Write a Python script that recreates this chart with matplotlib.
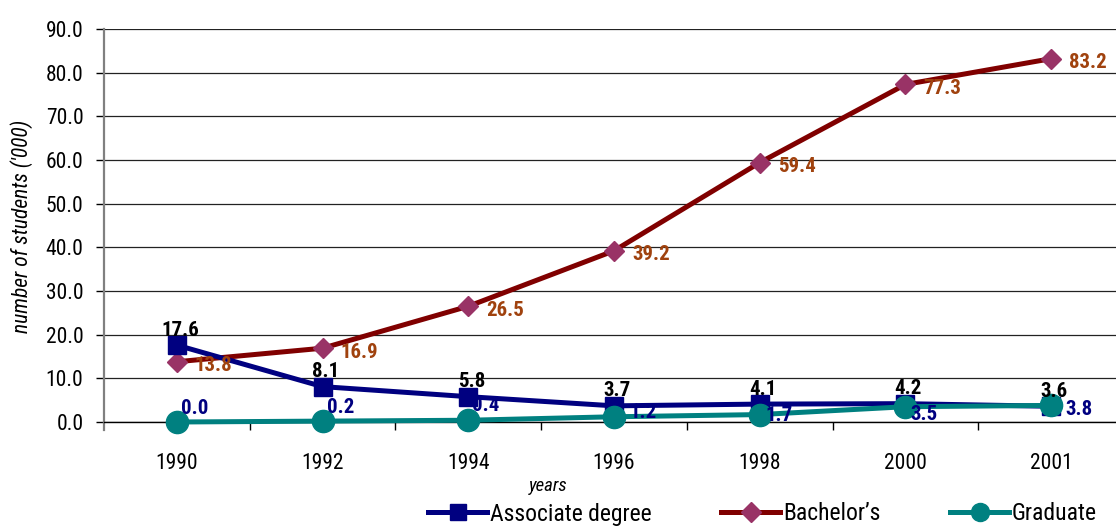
import matplotlib
matplotlib.use("Agg")
import matplotlib.pyplot as plt
from matplotlib.lines import Line2D

plt.rcParams['font.family'] = ['Roboto Condensed', 'DejaVu Sans']

years = ["1990", "1992", "1994", "1996", "1998", "2000", "2001"]
associate = [17.6, 8.1, 5.8, 3.7, 4.1, 4.2, 3.6]
bachelors = [13.8, 16.9, 26.5, 39.2, 59.4, 77.3, 83.2]
graduate = [0.0, 0.2, 0.4, 1.2, 1.7, 3.5, 3.8]
yticks = [0, 10, 20, 30, 40, 50, 60, 70, 80, 90]

# label offsets (pixels) for the graduate series, placed around the markers
grad_offsets = [(4, 14), (4, 14), (4, 15), (15, 4), (6, -1), (5, -8), (14, -4)]

W, H = 1116, 527
fig = plt.figure(figsize=(W / 100, H / 100), dpi=100)
ax = fig.add_axes([104 / W, 105 / H, 1012 / W, 393 / H])

x = list(range(len(years)))
navy, maroon, plum, teal = "#000080", "#800000", "#993366", "#008080"

ax.plot(x, associate, color=navy, lw=3.6, marker="s", ms=12.5,
        mfc=navy, mec=navy, zorder=4, clip_on=False)
ax.plot(x, bachelors, color=maroon, lw=3.6, marker="D", ms=10.5,
        mfc=plum, mec=plum, zorder=3, clip_on=False)
ax.plot(x, graduate, color=teal, lw=3.6, marker="o", ms=16,
        mfc=teal, mec=teal, zorder=5, clip_on=False)

lab_kw = dict(textcoords="offset pixels", fontsize=15, fontweight="bold")
for xi, v in zip(x, associate):
    ax.annotate(f"{v:.1f}", (xi, v), xytext=(3, 15), ha="center", va="center",
                color="black", zorder=6, **lab_kw)
for xi, v in zip(x, bachelors):
    ax.annotate(f"{v:.1f}", (xi, v), xytext=(18, -4), ha="left", va="center",
                color="#A0420E", zorder=6, **lab_kw)
for xi, v, off in zip(x, graduate, grad_offsets):
    ax.annotate(f"{v:.1f}", (xi, v), xytext=off, ha="left", va="center",
                color=navy, zorder=6, **lab_kw)

ax.set_xlim(-0.5, -0.5 + 1012 / 145.7)
ax.set_ylim(0, 90)

ax.set_yticks(yticks)
ax.set_yticklabels([f"{t:.1f}" for t in yticks])
ax.tick_params(axis="y", direction="out", length=5.8, width=1, color="black",
               pad=9, labelsize=15.5)
ax.yaxis.grid(True, color="#222222", lw=0.9)
ax.set_axisbelow(True)

# category boundaries carry the tick marks, labels sit at the centres
ax.set_xticks([i + 0.5 for i in range(len(years) - 1)])
ax.set_xticklabels([])
ax.set_xticks(x, minor=True)
ax.set_xticklabels(years, minor=True)
ax.tick_params(axis="x", which="major", direction="out", length=5.8, width=1,
               color="black")
ax.tick_params(axis="x", which="minor", length=0, pad=22, labelsize=15.5)

for s in ("top", "right"):
    ax.spines[s].set_visible(False)
ax.spines["left"].set_color("#808080")
ax.spines["left"].set_linewidth(1.6)
ax.spines["left"].set_bounds(-1.9, 90)
ax.spines["bottom"].set_color("black")
ax.spines["bottom"].set_linewidth(1)

fig.text(22 / W, 1 - 226 / H, "number of students ('000)", rotation=90,
         ha="center", va="center", fontsize=15.5, style="italic")
fig.text(548 / W, 1 - 486 / H, "years", ha="center", va="center",
         fontsize=13.5, style="italic")

handles = [
    Line2D([], [], color=navy, lw=3.6, marker="s", ms=12, mfc=navy, mec=navy),
    Line2D([], [], color=maroon, lw=3.6, marker="D", ms=10, mfc=plum, mec=plum),
    Line2D([], [], color=teal, lw=3.6, marker="o", ms=13, mfc=teal, mec=teal),
]
fig.legend(handles, ["Associate degree", "Bachelor\u2019s", "Graduate"],
           loc="center left", bbox_to_anchor=(428 / W, 1 - 514 / H), ncol=3,
           frameon=False, fontsize=17, handlelength=2.5, handletextpad=0.12,
           columnspacing=2.95, borderpad=0, borderaxespad=0)

fig.savefig("out.png", dpi=100)
